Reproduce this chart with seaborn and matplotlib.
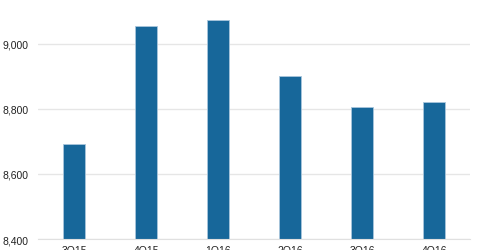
import matplotlib
matplotlib.use("Agg")
import matplotlib.pyplot as plt
import seaborn as sns
import pandas as pd
from matplotlib.ticker import FuncFormatter

quarters = ["3Q15", "4Q15", "1Q16", "2Q16", "3Q16", "4Q16"]
values = [8692, 9056, 9074, 8901, 8805, 8820]

df = pd.DataFrame({"quarter": quarters, "value": values})

sns.set_style("white")
plt.rcParams["font.family"] = ["Liberation Sans", "DejaVu Sans"]

fig = plt.figure(figsize=(4.8, 2.51), dpi=100)
ax = fig.add_axes([38/480, 11/251, 432/480, 240/251])

sns.barplot(data=df, x="quarter", y="value", color="#17679a", width=0.31,
            edgecolor="#a9c6dc", linewidth=0.6, ax=ax, saturation=1)

ax.set_ylim(8400, 9138)
ax.set_xlim(-0.5, 5.5)
ax.set_yticks([8400, 8600, 8800, 9000])
ax.yaxis.set_major_formatter(FuncFormatter(lambda v, p: f"{int(v):,}"))
ax.grid(axis="y", color="#e6e6e6", linewidth=1)
ax.set_axisbelow(True)
for s in ["top", "right", "left"]:
    ax.spines[s].set_visible(False)
ax.spines["bottom"].set_color("#e0e0e0")
ax.tick_params(axis="both", length=0, labelsize=7.5, colors="#222222")
ax.tick_params(axis="y", pad=6.5)
ax.tick_params(axis="x", pad=4.5)
ax.set_xlabel("")
ax.set_ylabel("")

fig.savefig("out.png", dpi=100)
